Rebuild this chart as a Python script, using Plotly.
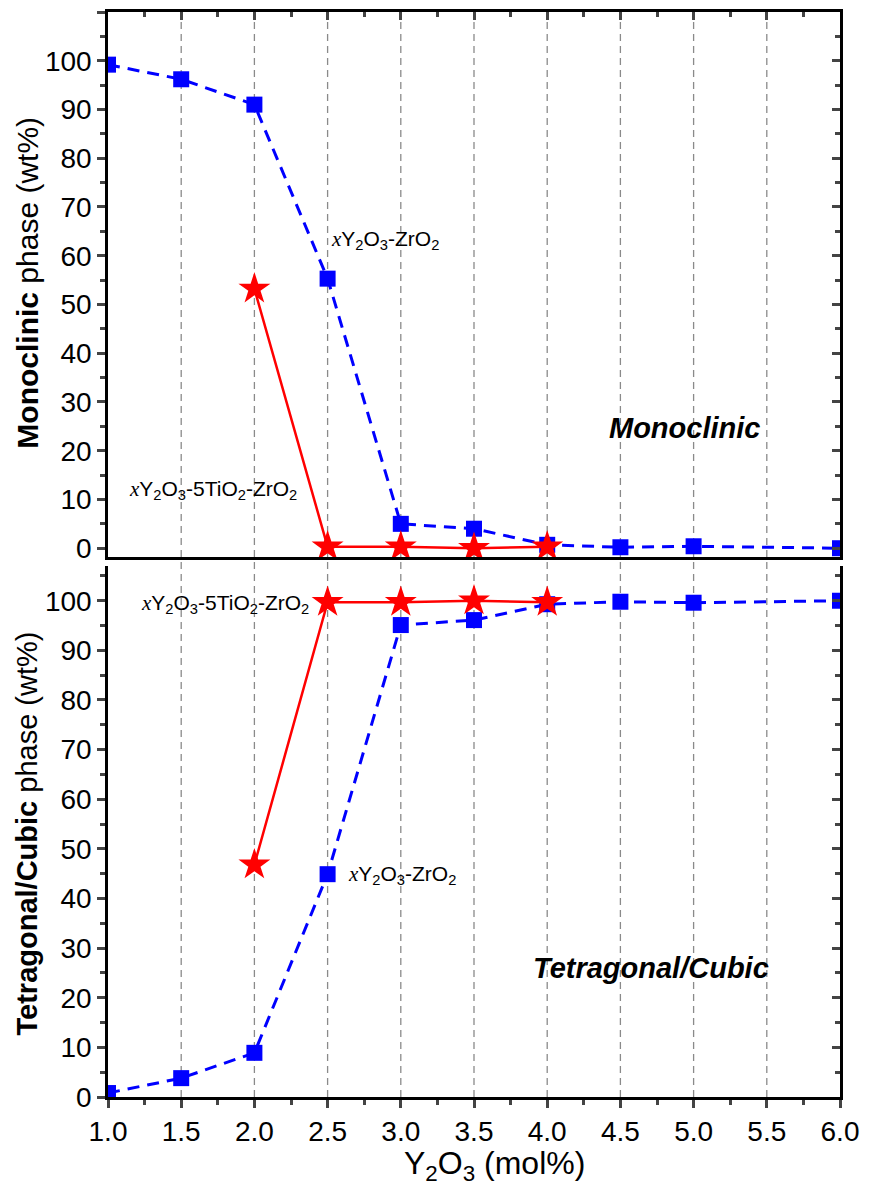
import plotly.graph_objects as go

# ---------------- data ----------------
x_blue = [1.0, 1.5, 2.0, 2.5, 3.0, 3.5, 4.0, 4.5, 5.0, 6.0]
mono_blue = [99.2, 96.2, 91.0, 55.3, 5.0, 4.0, 0.7, 0.2, 0.4, 0.0]
tc_blue = [0.8, 3.8, 8.9, 44.9, 95.1, 96.1, 99.3, 99.8, 99.6, 100.0]

x_red = [2.0, 2.5, 3.0, 3.5, 4.0]
mono_red = [53.2, 0.3, 0.3, 0.0, 0.3]
tc_red = [46.8, 99.7, 99.7, 100.0, 99.7]

grid_x = [1.5, 2.0, 2.5, 3.0, 3.5, 4.0, 4.5, 5.0, 5.5]
x_ticks = [1.0, 1.5, 2.0, 2.5, 3.0, 3.5, 4.0, 4.5, 5.0, 5.5, 6.0]
x_ticklabels = ["1.0", "1.5", "2.0", "2.5", "3.0", "3.5", "4.0", "4.5", "5.0", "5.5", "6.0"]

BLUE = "#0000FF"
RED = "#FF0000"
FONT = "Liberation Sans"
XI = "<span style=\"font-family:Liberation Serif\"><i>x</i></span>"

fig = go.Figure()

# top panel (monoclinic)
fig.add_trace(go.Scatter(x=x_blue, y=mono_blue, xaxis="x2", yaxis="y2", mode="lines+markers",
                         line=dict(color=BLUE, width=3, dash="12px,8px"),
                         marker=dict(symbol="square", size=16, color=BLUE), showlegend=False))
fig.add_trace(go.Scatter(x=x_red, y=mono_red, xaxis="x2", yaxis="y2", mode="lines+markers",
                         line=dict(color=RED, width=2.5),
                         marker=dict(symbol="star", size=24, color=RED), showlegend=False))
# bottom panel (tetragonal/cubic)
fig.add_trace(go.Scatter(x=x_blue, y=tc_blue, xaxis="x", yaxis="y", mode="lines+markers",
                         line=dict(color=BLUE, width=3, dash="12px,8px"),
                         marker=dict(symbol="square", size=16, color=BLUE), showlegend=False))
fig.add_trace(go.Scatter(x=x_red, y=tc_red, xaxis="x", yaxis="y", mode="lines+markers",
                         line=dict(color=RED, width=2.5),
                         marker=dict(symbol="star", size=24, color=RED), showlegend=False))

# empty helper traces so that the mirrored (overlay) axes are drawn
fig.add_trace(go.Scatter(x=[], y=[], xaxis="x3", yaxis="y4", showlegend=False, hoverinfo="skip"))
fig.add_trace(go.Scatter(x=[], y=[], xaxis="x", yaxis="y3", showlegend=False, hoverinfo="skip"))

# vertical dashed grid lines through both panels
for gx in grid_x:
    fig.add_shape(type="line", xref="x", yref="paper", x0=gx, x1=gx, y0=0, y1=1,
                  line=dict(color="#8a8a8a", width=1.3, dash="7px,5px"), layer="below")

LW = 2.5
tickfont = dict(family=FONT, size=28, color="black")
bot_dom = [0, 0.4894]
top_dom = [0.4977, 1]

fig.update_layout(
    width=871, height=1195,
    margin=dict(l=108, r=21, t=12, b=98),
    paper_bgcolor="white", plot_bgcolor="white",
    font=dict(family=FONT, color="black"),
    xaxis=dict(domain=[0, 1], anchor="y", range=[1, 6], tickvals=x_ticks, ticktext=x_ticklabels,
               ticks="outside", ticklen=8, tickwidth=LW, showline=True, linewidth=LW, linecolor="black",
               showgrid=False, zeroline=False, tickfont=tickfont,
               minor=dict(dtick=0.25, tick0=1, ticks="outside", ticklen=5, tickwidth=LW)),
    yaxis=dict(domain=bot_dom, anchor="x", range=[0, 107], dtick=10, tick0=0,
               ticks="outside", ticklen=8, tickwidth=LW, showline=True, linewidth=LW, linecolor="black",
               showgrid=False, zeroline=False, tickfont=tickfont,
               minor=dict(dtick=5, tick0=0, ticks="outside", ticklen=5, tickwidth=LW)),
    yaxis3=dict(overlaying="y", anchor="x", side="right", range=[0, 107], dtick=10, tick0=0,
                ticks="inside", ticklen=8, tickwidth=LW, showline=True, linewidth=LW, linecolor="black",
                showgrid=False, zeroline=False, showticklabels=False,
                minor=dict(dtick=5, tick0=0, ticks="inside", ticklen=5, tickwidth=LW)),
    xaxis2=dict(domain=[0, 1], anchor="y2", range=[1, 6], matches="x", ticks="", showticklabels=False,
                showline=True, linewidth=LW, linecolor="black", showgrid=False, zeroline=False),
    xaxis3=dict(overlaying="x2", anchor="y2", side="top", range=[1, 6], tickvals=x_ticks,
                ticks="inside", ticklen=8, tickwidth=LW, showline=True, linewidth=LW, linecolor="black",
                showgrid=False, zeroline=False, showticklabels=False,
                minor=dict(dtick=0.25, tick0=1, ticks="inside", ticklen=5, tickwidth=LW)),
    yaxis2=dict(domain=top_dom, anchor="x2", range=[-1.8, 110], dtick=10, tick0=0,
                ticks="outside", ticklen=8, tickwidth=LW, showline=True, linewidth=LW, linecolor="black",
                showgrid=False, zeroline=False, tickfont=tickfont,
                minor=dict(dtick=5, tick0=0, ticks="outside", ticklen=5, tickwidth=LW)),
    yaxis4=dict(overlaying="y2", anchor="x3", side="right", range=[-1.8, 110], dtick=10, tick0=0,
                ticks="inside", ticklen=8, tickwidth=LW, showline=True, linewidth=LW, linecolor="black",
                showgrid=False, zeroline=False, showticklabels=False,
                minor=dict(dtick=5, tick0=0, ticks="inside", ticklen=5, tickwidth=LW)),
)

ann_font = dict(family=FONT, size=21, color="black")
anns = [
    dict(text=XI + "Y<sub>2</sub>O<sub>3</sub>-ZrO<sub>2</sub>", x=2.89, y=63.2, xref="x2", yref="y2", font=ann_font),
    dict(text=XI + "Y<sub>2</sub>O<sub>3</sub>-5TiO<sub>2</sub>-ZrO<sub>2</sub>", x=1.72, y=11.9, xref="x2", yref="y2", font=ann_font),
    dict(text="<b><i>Monoclinic</i></b>", x=4.94, y=24.6, xref="x2", yref="y2", font=dict(family=FONT, size=29, color="black")),
    dict(text=XI + "Y<sub>2</sub>O<sub>3</sub>-5TiO<sub>2</sub>-ZrO<sub>2</sub>", x=1.80, y=99.4, xref="x", yref="y", font=ann_font),
    dict(text=XI + "Y<sub>2</sub>O<sub>3</sub>-ZrO<sub>2</sub>", x=3.01, y=44.7, xref="x", yref="y", font=ann_font),
    dict(text="<b><i>Tetragonal/Cubic</i></b>", x=4.71, y=26, xref="x", yref="y", font=dict(family=FONT, size=29, color="black")),
    dict(text="Y<sub>2</sub>O<sub>3</sub> (mol%)", x=0.528, y=-0.0627, xref="paper", yref="paper",
         font=dict(family=FONT, size=32, color="black")),
    dict(text="<b>Monoclinic</b> phase (wt%)", x=-0.11, y=0.751, xref="paper", yref="paper", textangle=-90,
         font=dict(family=FONT, size=30, color="black")),
    dict(text="<b>Tetragonal/Cubic</b> phase (wt%)", x=-0.11, y=0.2433, xref="paper", yref="paper", textangle=-90,
         font=dict(family=FONT, size=29, color="black")),
]
for a in anns:
    fig.add_annotation(showarrow=False, xanchor="center", yanchor="middle", **a)

fig.write_html("out.html")
